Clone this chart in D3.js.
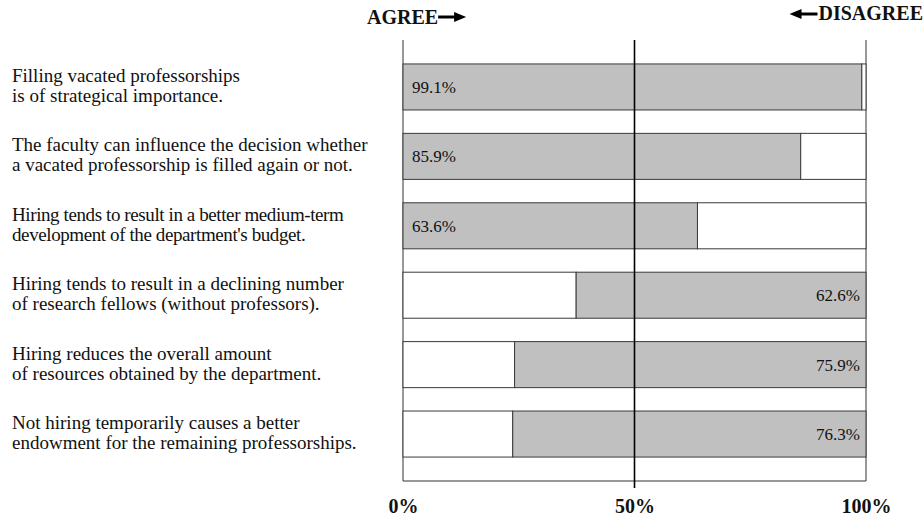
<!DOCTYPE html>
<html lang="en">
<head>
    <meta charset="UTF-8">
    <title>Agree / Disagree</title>
    <script src="https://cdn.jsdelivr.net/npm/d3@7/dist/d3.min.js"></script>
    <style>
        html, body {
            margin: 0;
            padding: 0;
            background: #fff;
        }

        svg text {
            font-family: "Liberation Serif", "Times New Roman", serif;
            fill: #111;
        }

        .head {
            font-size: 20px;
            font-weight: bold;
        }

        .stmt {
            font-size: 19px;
        }

        .pct {
            font-size: 17px;
        }

        .axis text {
            font-size: 20px;
            font-weight: bold;
        }
    </style>
</head>
<body>
<div id="chart"></div>
<script>
    // statements, two lines each
    let statements = [
        ["Filling vacated professorships", "is of strategical importance."],
        ["The faculty can influence the decision whether", "a vacated professorship is filled again or not."],
        ["Hiring tends to result in a better medium-term", "development of the department's budget."],
        ["Hiring tends to result in a declining number", "of research fellows (without professors)."],
        ["Hiring reduces the overall amount", "of resources obtained by the department."],
        ["Not hiring temporarily causes a better", "endowment for the remaining professorships."]
    ];
    let shares = [99.1, 85.9, 63.6, 62.6, 75.9, 76.3];
    let sides = ["agree", "agree", "agree", "disagree", "disagree", "disagree"];
    let ticks = [0, 50, 100];

    let width = 924, height = 519;

    let svg = d3.select("#chart").append("svg")
        .attr("width", width)
        .attr("height", height);

    let x = d3.scaleLinear().domain([0, 100]).range([403, 866]);
    let y = d3.scaleBand()
        .domain(d3.range(shares.length))
        .range([40, 481])
        .paddingInner(0.337)
        .paddingOuter(0.345);

    // frame: left, right, bottom
    svg.append("path")
        .attr("d", "M" + x(0) + ",40V" + 481 + "H" + x(100) + "V40")
        .attr("fill", "none")
        .attr("stroke", "#333")
        .attr("stroke-width", 1);

    // segments for each row
    let segs = [];
    shares.forEach(function (v, i) {
        if (sides[i] === "agree") {
            segs.push({row: i, from: 0, to: v, fill: "#c0c0c0"});
            segs.push({row: i, from: v, to: 100, fill: "#ffffff"});
        } else {
            segs.push({row: i, from: 0, to: 100 - v, fill: "#ffffff"});
            segs.push({row: i, from: 100 - v, to: 100, fill: "#c0c0c0"});
        }
    });

    svg.selectAll("rect.seg")
        .data(segs)
        .enter().append("rect")
        .attr("class", "seg")
        .attr("x", d => x(d.from))
        .attr("y", d => y(d.row))
        .attr("width", d => x(d.to) - x(d.from))
        .attr("height", y.bandwidth())
        .attr("fill", d => d.fill)
        .attr("stroke", "#3a3a3a")
        .attr("stroke-width", 1);

    // percent labels
    svg.selectAll("text.pct")
        .data(shares)
        .enter().append("text")
        .attr("class", "pct")
        .attr("x", (d, i) => sides[i] === "agree" ? x(0) + 9 : x(100) - 6)
        .attr("y", (d, i) => y(i) + y.bandwidth() / 2 + 6)
        .attr("text-anchor", (d, i) => sides[i] === "agree" ? "start" : "end")
        .text(d => d.toFixed(1) + "%");

    // 50% line
    svg.append("line")
        .attr("x1", x(50)).attr("x2", x(50))
        .attr("y1", 40).attr("y2", 488)
        .attr("stroke", "#000")
        .attr("stroke-width", 1.6);

    // statements on the left
    let st = svg.selectAll("text.stmt")
        .data(statements)
        .enter().append("text")
        .attr("class", "stmt")
        .attr("x", 12)
        .attr("y", (d, i) => y(i) + y.bandwidth() / 2 - 5)
        .style("letter-spacing", (d, i) => i === 2 ? "-0.4px" : null);
    st.append("tspan").attr("x", 12).text(d => d[0]);
    st.append("tspan").attr("x", 12).attr("dy", 20).text(d => d[1]);

    // bottom axis
    let axis = d3.axisBottom(x)
        .tickValues(ticks)
        .tickFormat(d => d + "%")
        .tickSize(0)
        .tickPadding(0);
    let ax = svg.append("g")
        .attr("class", "axis")
        .attr("transform", "translate(0,499)")
        .call(axis);
    ax.select(".domain").remove();
    ax.selectAll("text").attr("fill", "#111");

    // header with arrows
    let agree = svg.append("text")
        .attr("class", "head")
        .attr("x", 367).attr("y", 24)
        .text("AGREE");
    let ae = 367 + agree.node().getComputedTextLength();
    svg.append("line")
        .attr("x1", ae).attr("x2", ae + 18)
        .attr("y1", 17).attr("y2", 17)
        .attr("stroke", "#000").attr("stroke-width", 3);
    svg.append("path")
        .attr("d", "M" + (ae + 16) + ",12L" + (ae + 28) + ",17L" + (ae + 16) + ",22Z")
        .attr("fill", "#000");

    let dis = svg.append("text")
        .attr("class", "head")
        .attr("x", 923).attr("y", 20)
        .attr("text-anchor", "end")
        .text("DISAGREE");
    let ds = 923 - dis.node().getComputedTextLength();
    svg.append("line")
        .attr("x1", ds - 1).attr("x2", ds - 19)
        .attr("y1", 14).attr("y2", 14)
        .attr("stroke", "#000").attr("stroke-width", 3);
    svg.append("path")
        .attr("d", "M" + (ds - 17) + ",9L" + (ds - 29) + ",14L" + (ds - 17) + ",19Z")
        .attr("fill", "#000");
</script>
</body>
</html>
